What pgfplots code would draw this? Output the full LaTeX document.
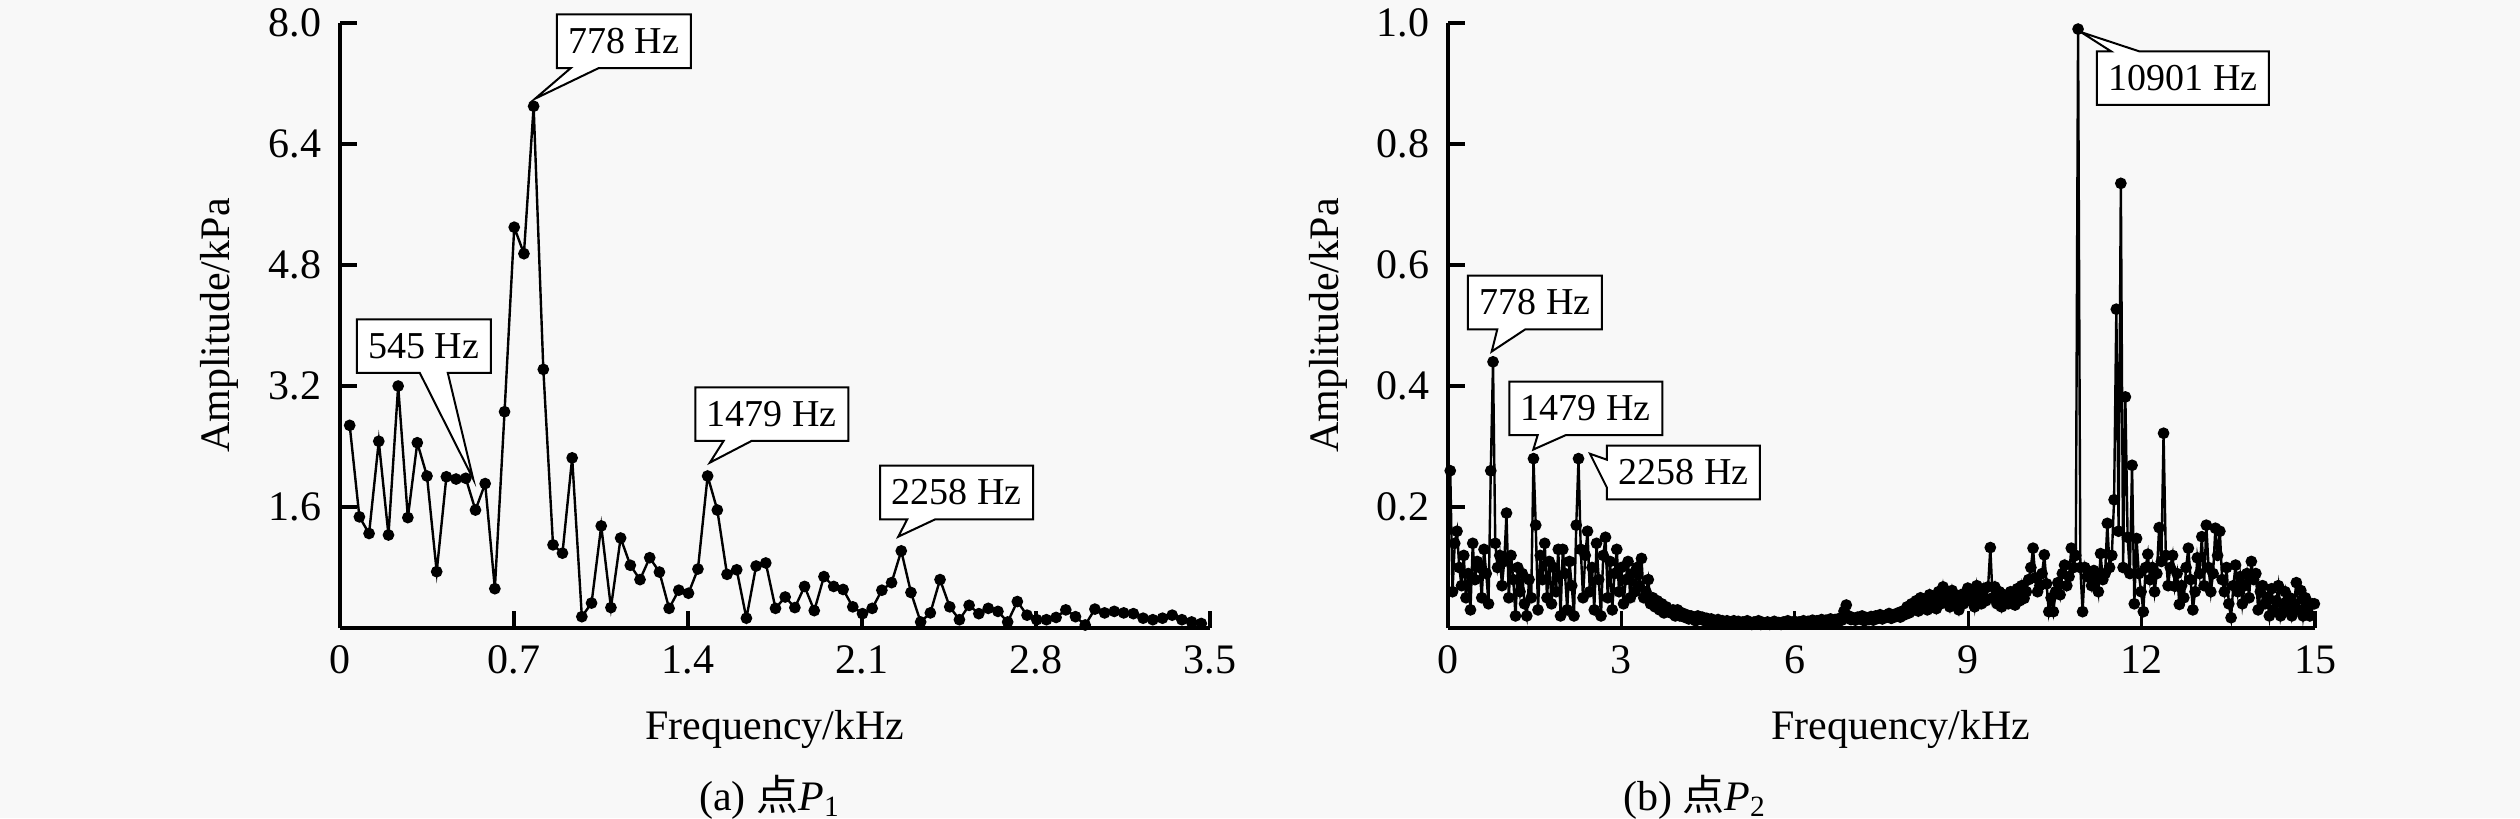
\documentclass[border=0pt]{standalone}
\usepackage{pgfplots}
\pgfplotsset{compat=1.18}
\usepackage{fontspec}
\setmainfont{Liberation Serif}
\newfontfamily\cjk{Noto Sans CJK SC}
\usetikzlibrary{shapes.callouts}
\definecolor{bg}{RGB}{248,248,248}
\pgfplotsset{
  myaxis/.style={
    scale only axis, height=151.25pt,
    axis x line=bottom, axis y line=left,
    axis line style={-, line width=0.8pt, black},
    tick align=inside, major tick length=4.25pt,
    tick style={line width=0.8pt, black},
    every tick label/.append style={font=\fontsize{10.5}{12}\selectfont},
    label style={font=\fontsize{10.5}{12}\selectfont},
    /pgf/number format/assume math mode=true,
    clip=false,
    xticklabel style={yshift=-0.75pt},
    yticklabel style={xshift=-1pt, /pgf/number format/fixed, /pgf/number format/fixed zerofill, /pgf/number format/precision=1},
  },
}
\tikzset{
  ann/.style={rectangle callout, draw=black, line width=0.5pt, fill=white,
    font=\fontsize{9.5}{11}\selectfont, inner xsep=2.9pt, minimum height=12.9pt,
    callout pointer width=7pt},
}
\begin{document}
\fontsize{10.5}{12}\selectfont
\begin{tikzpicture}
\fill[bg] (0pt,0pt) rectangle (630pt,-204.5pt);
\useasboundingbox (0pt,0pt) rectangle (630pt,-204.5pt);
% ---------------- (a) ----------------
\begin{axis}[myaxis, at={(85pt,-157pt)}, anchor=south west, width=217.5pt,
  xmin=0, xmax=3.5, ymin=0, ymax=8,
  xtick={0,0.7,1.4,2.1,2.8,3.5},
  ytick={1.6,3.2,4.8,6.4,8.0},
  xlabel={Frequency/kHz}, ylabel={Amplitude/kPa},
  xlabel style={at={(axis description cs:0.5,0)}, anchor=base, yshift=-27.75pt},
  ylabel style={at={(axis description cs:-0.139,0.5)}, anchor=center},
]
\addplot[black, line width=0.6pt, mark=*, mark size=1.15pt] coordinates {
(0.039,2.68)(0.078,1.47)(0.117,1.25)(0.156,2.47)(0.195,1.23)(0.234,3.20)(0.273,1.46)(0.311,2.45)(0.350,2.01)
(0.389,0.745)(0.428,2.00)(0.467,1.97)(0.506,1.98)(0.545,1.56)(0.584,1.91)(0.623,0.52)(0.662,2.86)(0.701,5.30)(0.740,4.95)
(0.779,6.90)(0.818,3.42)(0.857,1.10)(0.895,0.99)(0.934,2.25)(0.973,0.15)(1.012,0.33)(1.051,1.35)(1.090,0.27)(1.129,1.19)
(1.168,0.83)(1.207,0.64)(1.246,0.93)(1.285,0.74)(1.324,0.26)(1.363,0.50)(1.402,0.46)(1.440,0.78)(1.479,2.01)(1.518,1.56)
(1.557,0.71)(1.596,0.77)(1.635,0.13)(1.674,0.82)(1.713,0.86)(1.752,0.26)(1.791,0.41)(1.830,0.27)(1.869,0.55)(1.908,0.23)
(1.947,0.68)(1.986,0.55)(2.024,0.51)(2.063,0.28)(2.102,0.19)(2.141,0.26)(2.180,0.50)(2.219,0.60)(2.258,1.02)(2.297,0.47)
(2.336,0.08)(2.375,0.20)(2.414,0.64)(2.453,0.28)(2.492,0.11)(2.531,0.30)(2.570,0.19)(2.608,0.26)(2.647,0.22)(2.686,0.08)
(2.725,0.35)(2.764,0.17)(2.803,0.11)(2.842,0.11)(2.881,0.14)(2.920,0.24)(2.959,0.15)(2.998,0.04)(3.037,0.25)(3.076,0.20)
(3.115,0.22)(3.153,0.20)(3.192,0.19)(3.231,0.13)(3.270,0.11)(3.309,0.13)(3.348,0.17)(3.387,0.11)(3.426,0.08)(3.465,0.06)
};
\node[ann, callout absolute pointer={(axis cs:0.536,1.97)}] at (axis cs:0.3374,3.727) {545 Hz};
\node[ann, callout absolute pointer={(axis cs:0.785,7.0)}] at (axis cs:1.142,7.76) {778 Hz};
\node[ann, callout absolute pointer={(axis cs:1.488,2.187)}] at (axis cs:1.737,2.828) {1479 Hz};
\node[ann, callout absolute pointer={(axis cs:2.246,1.208)}] at (axis cs:2.481,1.792) {2258 Hz};
\end{axis}
% ---------------- (b) ----------------
\begin{axis}[myaxis, at={(362pt,-157pt)}, anchor=south west, width=216.75pt,
  xmin=0, xmax=15, ymin=0, ymax=1,
  xtick={0,3,6,9,12,15},
  ytick={0.2,0.4,0.6,0.8,1.0},
  xlabel={Frequency/kHz}, ylabel={Amplitude/kPa},
  xlabel style={at={(axis description cs:0.5225,0)}, anchor=base, yshift=-27.75pt},
  ylabel style={at={(axis description cs:-0.1384,0.5)}, anchor=center},
]
\addplot[black, line width=0.6pt, mark=*, mark size=1.15pt] coordinates {
(0.039,0.26)(0.078,0.06)(0.117,0.14)(0.156,0.16)(0.195,0.10)(0.234,0.07)(0.273,0.12)(0.311,0.05)(0.350,0.09)
(0.389,0.03)(0.428,0.14)(0.467,0.08)(0.506,0.11)(0.545,0.10)(0.584,0.05)(0.623,0.13)(0.662,0.09)(0.701,0.04)(0.740,0.26)
(0.779,0.44)(0.818,0.14)(0.857,0.10)(0.895,0.12)(0.934,0.07)(0.973,0.11)(1.012,0.19)(1.051,0.05)(1.090,0.12)(1.129,0.08)
(1.168,0.02)(1.207,0.10)(1.246,0.06)(1.285,0.09)(1.324,0.04)(1.363,0.02)(1.402,0.08)(1.440,0.05)(1.479,0.28)(1.518,0.17)
(1.557,0.03)(1.596,0.12)(1.635,0.08)(1.674,0.14)(1.713,0.05)(1.752,0.11)(1.791,0.04)(1.830,0.10)(1.869,0.06)(1.908,0.13)
(1.947,0.02)(1.986,0.13)(2.024,0.09)(2.063,0.03)(2.102,0.11)(2.141,0.07)(2.180,0.02)(2.219,0.17)(2.258,0.28)(2.297,0.13)
(2.336,0.05)(2.375,0.12)(2.414,0.16)(2.453,0.06)(2.492,0.10)(2.531,0.03)(2.570,0.14)(2.608,0.08)(2.647,0.02)(2.686,0.12)
(2.725,0.15)(2.764,0.05)(2.803,0.11)(2.842,0.03)(2.881,0.09)(2.920,0.13)(2.959,0.06)(2.998,0.10)(3.037,0.04)(3.076,0.08)
(3.115,0.11)(3.153,0.05)(3.192,0.09)(3.231,0.06)(3.270,0.10)(3.309,0.07)(3.348,0.115)(3.387,0.05)(3.426,0.06)(3.465,0.08)
(3.504,0.04)(3.543,0.05)(3.582,0.035)(3.621,0.045)(3.660,0.03)(3.699,0.04)(3.737,0.025)(3.776,0.035)(3.815,0.03)(3.854,0.025)
(3.893,0.03)(3.932,0.02)(3.971,0.03)(4.010,0.02)(4.049,0.025)(4.088,0.018)(4.127,0.022)(4.166,0.015)(4.205,0.02)(4.244,0.018)
(4.283,0.012)(4.322,0.02)(4.361,0.015)(4.400,0.018)(4.439,0.012)(4.478,0.016)(4.516,0.01)(4.555,0.015)(4.594,0.012)(4.633,0.01)
(4.672,0.014)(4.711,0.01)(4.750,0.012)(4.789,0.008)(4.828,0.012)(4.867,0.01)(4.906,0.008)(4.945,0.012)(4.984,0.009)(5.023,0.011)
(5.061,0.008)(5.100,0.01)(5.139,0.007)(5.178,0.012)(5.217,0.008)(5.256,0.006)(5.295,0.01)(5.334,0.008)(5.373,0.012)(5.412,0.006)
(5.450,0.009)(5.489,0.007)(5.528,0.01)(5.567,0.006)(5.606,0.008)(5.645,0.011)(5.684,0.007)(5.723,0.009)(5.762,0.006)(5.801,0.01)
(5.840,0.008)(5.879,0.012)(5.918,0.007)(5.957,0.009)(5.996,0.011)(6.035,0.008)(6.074,0.01)(6.112,0.007)(6.151,0.012)(6.190,0.009)
(6.229,0.011)(6.268,0.008)(6.307,0.013)(6.346,0.01)(6.385,0.012)(6.424,0.009)(6.463,0.014)(6.502,0.011)(6.541,0.013)(6.580,0.01)
(6.618,0.015)(6.657,0.012)(6.696,0.014)(6.735,0.011)(6.774,0.016)(6.813,0.013)(6.852,0.028)(6.891,0.038)(6.930,0.02)(6.969,0.014)
(7.008,0.017)(7.047,0.013)(7.086,0.018)(7.125,0.015)(7.164,0.02)(7.203,0.012)(7.241,0.017)(7.280,0.014)(7.319,0.019)(7.358,0.013)
(7.397,0.02)(7.436,0.016)(7.475,0.022)(7.514,0.015)(7.553,0.02)(7.592,0.018)(7.631,0.024)(7.670,0.016)(7.709,0.022)(7.748,0.019)
(7.786,0.025)(7.825,0.018)(7.864,0.028)(7.903,0.022)(7.942,0.035)(7.981,0.025)(8.020,0.04)(8.059,0.03)(8.098,0.045)(8.137,0.028)
(8.176,0.05)(8.215,0.035)(8.254,0.042)(8.293,0.03)(8.332,0.055)(8.371,0.038)(8.410,0.048)(8.448,0.032)(8.487,0.06)(8.526,0.04)
(8.565,0.068)(8.604,0.045)(8.643,0.055)(8.682,0.035)(8.721,0.062)(8.760,0.042)(8.799,0.05)(8.838,0.03)(8.877,0.055)(8.916,0.04)
(8.954,0.058)(8.993,0.066)(9.032,0.045)(9.071,0.06)(9.110,0.035)(9.149,0.07)(9.188,0.05)(9.227,0.04)(9.266,0.065)(9.305,0.045)
(9.344,0.068)(9.383,0.133)(9.422,0.05)(9.461,0.068)(9.500,0.04)(9.539,0.06)(9.578,0.035)(9.616,0.055)(9.655,0.045)(9.694,0.04)
(9.733,0.06)(9.772,0.05)(9.811,0.038)(9.850,0.065)(9.889,0.045)(9.928,0.07)(9.967,0.049)(10.006,0.06)(10.045,0.08)(10.084,0.10)
(10.122,0.132)(10.161,0.083)(10.200,0.06)(10.239,0.07)(10.278,0.09)(10.317,0.121)(10.356,0.073)(10.395,0.027)(10.434,0.05)(10.473,0.027)
(10.512,0.06)(10.551,0.075)(10.590,0.055)(10.629,0.09)(10.667,0.104)(10.706,0.07)(10.745,0.085)(10.784,0.132)(10.823,0.10)(10.862,0.12)
(10.901,0.99)(10.940,0.10)(10.979,0.027)(11.018,0.10)(11.057,0.085)(11.096,0.09)(11.135,0.07)(11.174,0.095)(11.213,0.085)(11.252,0.06)
(11.290,0.123)(11.329,0.08)(11.368,0.09)(11.407,0.173)(11.446,0.10)(11.485,0.12)(11.524,0.212)(11.563,0.527)(11.602,0.16)(11.641,0.735)
(11.680,0.10)(11.719,0.382)(11.758,0.15)(11.797,0.09)(11.835,0.269)(11.874,0.04)(11.913,0.148)(11.952,0.09)(11.991,0.06)(12.030,0.027)
(12.069,0.10)(12.108,0.122)(12.147,0.08)(12.186,0.10)(12.225,0.06)(12.264,0.09)(12.303,0.166)(12.342,0.11)(12.380,0.322)(12.419,0.12)
(12.458,0.07)(12.497,0.10)(12.536,0.12)(12.575,0.069)(12.614,0.09)(12.653,0.039)(12.692,0.07)(12.731,0.05)(12.770,0.10)(12.809,0.132)
(12.848,0.08)(12.887,0.03)(12.925,0.06)(12.964,0.116)(13.003,0.09)(13.042,0.151)(13.081,0.07)(13.120,0.17)(13.159,0.10)(13.198,0.06)
(13.237,0.09)(13.276,0.165)(13.315,0.12)(13.354,0.16)(13.393,0.08)(13.432,0.06)(13.470,0.10)(13.509,0.04)(13.548,0.017)(13.587,0.07)
(13.626,0.104)(13.665,0.06)(13.704,0.085)(13.743,0.04)(13.782,0.07)(13.821,0.09)(13.860,0.05)(13.899,0.11)(13.938,0.08)(13.977,0.09)
(14.016,0.03)(14.054,0.06)(14.093,0.07)(14.132,0.04)(14.171,0.05)(14.210,0.02)(14.249,0.065)(14.288,0.03)(14.327,0.045)(14.366,0.07)
(14.405,0.02)(14.444,0.04)(14.483,0.06)(14.522,0.03)(14.561,0.05)(14.599,0.02)(14.638,0.04)(14.677,0.075)(14.716,0.03)(14.755,0.062)
(14.794,0.02)(14.833,0.05)(14.872,0.03)(14.911,0.02)(14.950,0.04)(14.989,0.04)
};
\node[ann, callout absolute pointer={(axis cs:0.756,0.457)}] at (axis cs:1.505,0.538) {778 Hz};
\node[ann, callout absolute pointer={(axis cs:1.476,0.295)}] at (axis cs:2.385,0.363) {1479 Hz};
\node[ann, callout absolute pointer={(axis cs:2.457,0.288)}] at (axis cs:4.074,0.257) {2258 Hz};
\node[ann, callout absolute pointer={(axis cs:10.95,0.985)}] at (axis cs:12.716,0.909) {10901 Hz};
\end{axis}
\node[anchor=base] at (192.5pt,-202.5pt) {(a) {\cjk 点}\textit{P}\textsubscript{1}};
\node[anchor=base] at (423.75pt,-202.5pt) {(b) {\cjk 点}\textit{P}\textsubscript{2}};
\end{tikzpicture}
\end{document}
